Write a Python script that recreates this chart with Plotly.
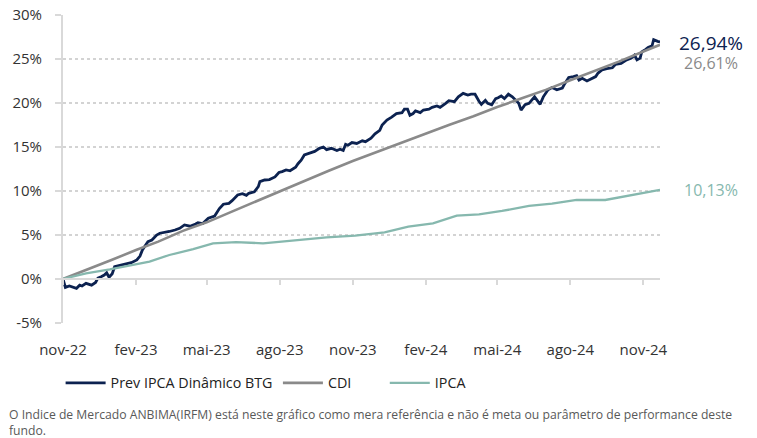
import plotly.graph_objects as go

# ---------------- data ----------------
btg_dates = [
    "2022-11-01", "2022-11-03", "2022-11-04", "2022-11-09", "2022-11-14", "2022-11-18", "2022-11-22", "2022-11-25",
    "2022-11-30", "2022-12-07", "2022-12-12", "2022-12-15", "2022-12-19", "2022-12-23", "2022-12-26", "2022-12-29",
    "2023-01-02", "2023-01-05", "2023-01-09", "2023-01-16", "2023-01-20", "2023-01-26", "2023-02-02", "2023-02-06",
    "2023-02-09", "2023-02-13", "2023-02-16", "2023-02-21", "2023-02-27", "2023-03-03", "2023-03-09", "2023-03-15",
    "2023-03-22", "2023-03-28", "2023-04-03", "2023-04-10", "2023-04-17", "2023-04-20", "2023-04-26", "2023-05-03",
    "2023-05-11", "2023-05-17", "2023-05-22", "2023-05-29", "2023-06-02", "2023-06-09", "2023-06-15", "2023-06-20",
    "2023-06-23", "2023-06-30", "2023-07-05", "2023-07-07", "2023-07-13", "2023-07-19", "2023-07-26", "2023-07-31",
    "2023-08-04", "2023-08-09", "2023-08-14", "2023-08-21", "2023-08-24", "2023-08-28", "2023-09-01", "2023-09-08",
    "2023-09-14", "2023-09-20", "2023-09-25", "2023-09-29", "2023-10-05", "2023-10-12", "2023-10-16", "2023-10-20",
    "2023-10-23", "2023-10-26", "2023-10-31", "2023-11-06", "2023-11-13", "2023-11-17", "2023-11-24", "2023-11-29",
    "2023-12-05", "2023-12-08", "2023-12-14", "2023-12-20", "2023-12-26", "2024-01-02", "2024-01-05", "2024-01-09",
    "2024-01-12", "2024-01-16", "2024-01-19", "2024-01-25", "2024-01-29", "2024-02-05", "2024-02-09", "2024-02-15",
    "2024-02-19", "2024-02-26", "2024-03-01", "2024-03-08", "2024-03-13", "2024-03-19", "2024-03-25", "2024-03-29",
    "2024-04-03", "2024-04-08", "2024-04-11", "2024-04-16", "2024-04-19", "2024-04-24", "2024-04-29", "2024-05-02",
    "2024-05-06", "2024-05-10", "2024-05-15", "2024-05-20", "2024-05-23", "2024-05-28", "2024-05-31", "2024-06-05",
    "2024-06-10", "2024-06-13", "2024-06-17", "2024-06-24", "2024-06-28", "2024-07-04", "2024-07-09", "2024-07-15",
    "2024-07-22", "2024-07-25", "2024-07-30", "2024-08-05", "2024-08-09", "2024-08-12", "2024-08-16", "2024-08-22",
    "2024-08-26", "2024-09-02", "2024-09-05", "2024-09-10", "2024-09-16", "2024-09-23", "2024-09-27", "2024-10-04",
    "2024-10-11", "2024-10-17", "2024-10-21", "2024-10-24", "2024-10-28", "2024-10-30", "2024-11-04", "2024-11-07",
    "2024-11-12", "2024-11-14", "2024-11-19", "2024-11-22",
]
btg_values = [
    0.00, -0.70, -0.95, -0.80, -0.95, -1.06, -0.70, -0.80,
    -0.50, -0.70, -0.40, 0.10, 0.26, 0.45, 0.70, 0.20,
    0.60, 1.40, 1.48, 1.60, 1.70, 1.85, 2.16, 2.60,
    3.30, 3.86, 4.24, 4.43, 5.00, 5.20, 5.26, 5.40,
    5.57, 5.76, 6.14, 6.00, 6.25, 6.40, 6.30, 6.90,
    7.16, 8.00, 8.50, 8.60, 8.90, 9.55, 9.70, 9.50,
    9.74, 9.90, 10.50, 11.06, 11.25, 11.30, 11.60, 12.10,
    12.20, 12.40, 12.30, 12.70, 13.10, 13.50, 14.10, 14.35,
    14.50, 14.85, 15.00, 14.70, 14.85, 14.60, 14.75, 14.60,
    15.30, 15.20, 15.50, 15.40, 15.70, 15.60, 16.00, 16.50,
    16.90, 17.50, 18.07, 18.40, 18.80, 18.90, 19.30, 19.30,
    18.60, 18.80, 19.10, 18.90, 19.20, 19.30, 19.50, 19.66,
    19.50, 19.96, 20.26, 20.15, 20.70, 21.10, 20.90, 21.00,
    21.00, 20.20, 19.85, 20.30, 19.96, 19.80, 20.50, 20.60,
    20.80, 20.50, 21.00, 20.70, 20.45, 19.96, 19.20, 19.80,
    19.96, 20.30, 20.70, 19.85, 20.70, 21.50, 21.75, 21.50,
    21.70, 22.20, 22.90, 23.00, 23.10, 22.60, 22.80, 22.50,
    22.70, 23.00, 23.40, 23.75, 23.90, 24.00, 24.40, 24.50,
    24.90, 25.10, 25.45, 24.90, 25.10, 25.80, 26.10, 26.30,
    26.50, 27.20, 27.00, 26.94,
]

cdi_dates = [
    "2022-11-01", "2022-12-01", "2023-01-01", "2023-02-01", "2023-03-01", "2023-04-01", "2023-05-01",
    "2023-06-01", "2023-07-01", "2023-08-01", "2023-09-01", "2023-10-01", "2023-11-01", "2023-12-01",
    "2024-01-01", "2024-02-01", "2024-03-01", "2024-04-01", "2024-05-01", "2024-06-01", "2024-07-01",
    "2024-08-01", "2024-09-01", "2024-10-01", "2024-11-01", "2024-11-22",
]
cdi_values = [
    0.00, 1.02, 2.15, 3.30, 4.25, 5.47, 6.44,
    7.63, 8.78, 9.94, 11.20, 12.28, 13.40, 14.44,
    15.46, 16.58, 17.51, 18.49, 19.54, 20.53, 21.49,
    22.59, 23.66, 24.70, 25.86, 26.61,
]

ipca_dates = [
    "2022-11-01", "2022-11-30", "2022-12-30", "2023-01-20", "2023-02-18", "2023-03-15", "2023-04-14",
    "2023-05-09", "2023-06-07", "2023-07-11", "2023-08-18", "2023-09-29", "2023-11-04", "2023-12-11",
    "2024-01-10", "2024-02-10", "2024-03-11", "2024-04-08", "2024-05-07", "2024-06-10", "2024-07-09",
    "2024-08-09", "2024-09-14", "2024-10-17", "2024-11-22",
]
ipca_values = [
    0.00, 0.65, 1.10, 1.48, 1.97, 2.73, 3.40,
    4.05, 4.20, 4.05, 4.35, 4.74, 4.92, 5.30,
    5.95, 6.33, 7.20, 7.35, 7.73, 8.30, 8.56,
    8.98, 8.98, 9.55, 10.13,
]

tick_dates = ["2022-11-01", "2023-02-01", "2023-05-01", "2023-08-01", "2023-11-01",
              "2024-02-01", "2024-05-01", "2024-08-01", "2024-11-01"]
tick_labels = ["nov-22", "fev-23", "mai-23", "ago-23", "nov-23", "fev-24", "mai-24", "ago-24", "nov-24"]

y_ticks = [-5, 0, 5, 10, 15, 20, 25, 30]
y_tick_labels = ["-5%", "0%", "5%", "10%", "15%", "20%", "25%", "30%"]

names = ["Prev IPCA Dinâmico BTG", "CDI", "IPCA"]
end_labels = ["26,94%", "26,61%", "10,13%"]
footnote = ("O Indice de Mercado ANBIMA(IRFM) está neste gráfico como mera referência e não é meta ou "
            "parâmetro de performance deste<br>fundo.")

# ---------------- style ----------------
C_BTG = "#0c2250"
C_CDI = "#8a8a8a"
C_IPCA = "#86b8ae"
C_AXIS = "#d9d9d9"
FONT = "Open Sans"

fig = go.Figure()
fig.add_trace(go.Scatter(x=btg_dates, y=btg_values, mode="lines", name=names[0],
                         line=dict(color=C_BTG, width=2.8), legend="legend"))
fig.add_trace(go.Scatter(x=cdi_dates, y=cdi_values, mode="lines", name=names[1],
                         line=dict(color=C_CDI, width=2.6), legend="legend2"))
fig.add_trace(go.Scatter(x=ipca_dates, y=ipca_values, mode="lines", name=names[2],
                         line=dict(color=C_IPCA, width=2.3), legend="legend3"))

yr = [y_ticks[0], y_ticks[-1]]
zero_pos = (0 - yr[0]) / (yr[1] - yr[0])

fig.update_layout(
    width=757, height=438,
    margin=dict(l=63, r=97, t=15, b=115, autoexpand=False),
    paper_bgcolor="white", plot_bgcolor="white",
    font=dict(family=FONT, color="#333333"),
    xaxis=dict(
        type="date", range=[btg_dates[0], btg_dates[-1]],
        tickvals=tick_dates, ticktext=tick_labels,
        anchor="free", position=zero_pos, automargin=False,
        showline=True, linecolor=C_AXIS, linewidth=2,
        ticks="outside", ticklen=5, tickwidth=2, tickcolor=C_AXIS,
        showgrid=False, zeroline=False,
        ticklabelstandoff=52,
        tickfont=dict(size=15, color="#333333", family=FONT),
    ),
    yaxis=dict(
        range=yr, tickvals=y_ticks, ticktext=y_tick_labels, automargin=False,
        showgrid=True, gridcolor="#d3d3d3", gridwidth=1.6, griddash="dot",
        showline=True, linecolor=C_AXIS, linewidth=2,
        ticks="outside", ticklen=6, tickwidth=2, tickcolor=C_AXIS,
        zeroline=False, ticklabelstandoff=10,
        tickfont=dict(size=15, color="#333333", family=FONT),
    ),
    showlegend=True,
)

leg_common = dict(orientation="h", yanchor="middle", y=-0.195, xanchor="left",
                  font=dict(size=14.3, color="#222222", family=FONT),
                  bgcolor="rgba(0,0,0,0)", itemwidth=40)
fig.update_layout(
    legend=dict(x=-0.004, **leg_common),
    legend2=dict(x=0.360, **leg_common),
    legend3=dict(x=0.539, **leg_common),
)

# end labels
ends = [(btg_values[-1], C_BTG, 19, -1), (cdi_values[-1], C_CDI, 16, -18), (ipca_values[-1], C_IPCA, 16, 0)]
for txt, (val, col, sz, ys) in zip(end_labels, ends):
    fig.add_annotation(x=1.0854, xref="paper", xanchor="center", y=val, yref="y", yanchor="middle",
                       yshift=ys, text=txt, showarrow=False, font=dict(size=sz, color=col, family=FONT))

fig.add_annotation(x=-0.094, xref="paper", xanchor="left", y=-0.262, yref="paper", yanchor="top",
                   text=footnote, showarrow=False, align="left",
                   font=dict(size=12.2, color="#595959", family=FONT))

fig.write_html("out.html", config={"displayModeBar": False},
               post_script="document.body.style.margin='0';document.body.style.overflow='hidden';")
